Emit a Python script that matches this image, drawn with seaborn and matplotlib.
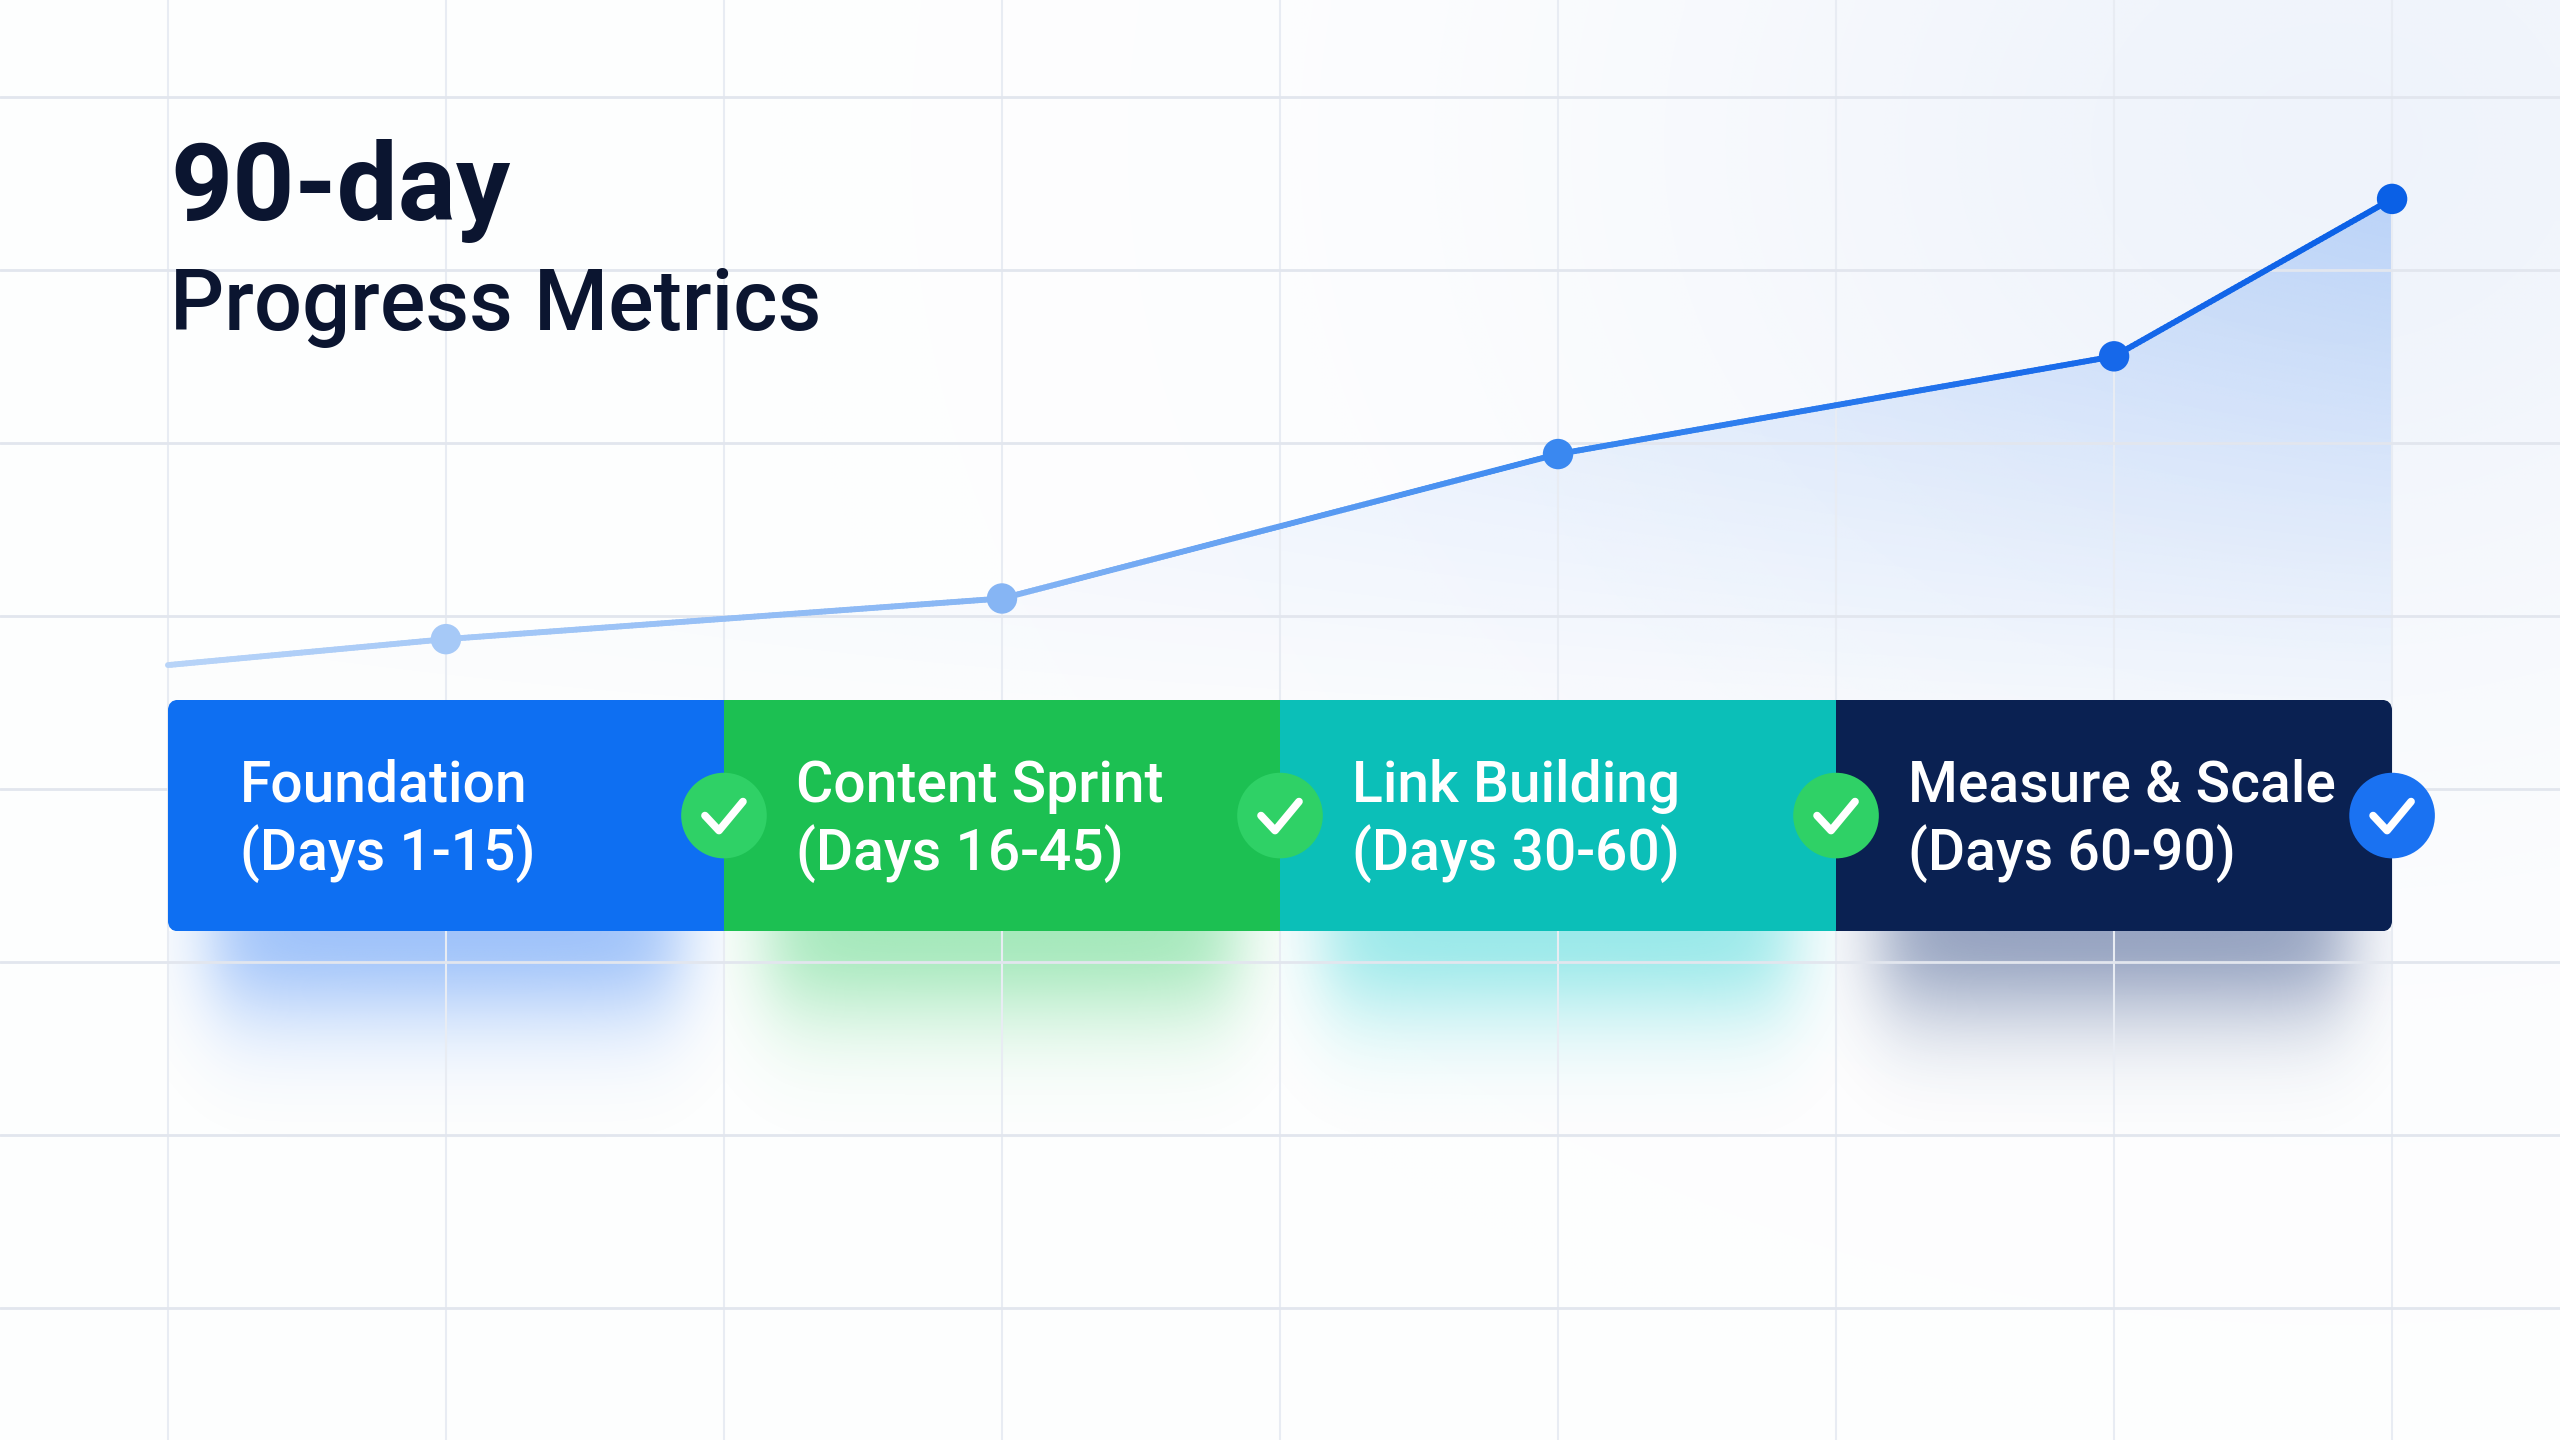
import numpy as np
import pandas as pd
import matplotlib
matplotlib.use("Agg")
import matplotlib.pyplot as plt
import seaborn as sns
from matplotlib.collections import LineCollection
from matplotlib.colors import LinearSegmentedColormap, to_rgb
from matplotlib.patches import FancyBboxPatch

# ---------------- data ----------------
title_line1 = "90-day"
title_line2 = "Progress Metrics"

progress_x = [0, 1, 3, 5, 7, 8]                      # grid columns (90 days in 8 steps)
progress_y = [14.3, 17.3, 22.0, 38.7, 50.0, 68.2]   # progress score
marker_x = [1, 3, 5, 7, 8]
marker_y = [17.3, 22.0, 38.7, 50.0, 68.2]

phase_names = ["Foundation", "Content Sprint", "Link Building", "Measure & Scale"]
phase_days = ["(Days 1-15)", "(Days 16-45)", "(Days 30-60)", "(Days 60-90)"]
phase_start = [0, 2, 4, 6]
phase_len = [2, 2, 2, 2]
phase_colors = ["#0e6ff2", "#1cc052", "#0bbfb8", "#0a2152"]
shadow_colors = ["#2f7cf5", "#3ccf6c", "#25d2d2", "#1e3a78"]

check_x = [2, 4, 6, 8]
check_state = ["done", "done", "done", "final"]
check_palette = {"done": "#2fd166", "final": "#1a72f2"}

# ---------------- figure ----------------
sns.set_theme(style="whitegrid")
plt.rcParams["font.family"] = ["Roboto", "DejaVu Sans"]

W, H = 2560, 1440
fig = plt.figure(figsize=(W / 100, H / 100), dpi=100)
ax = fig.add_axes([0, 0, 1, 1])
XMIN, XMAX = -0.604, 8.604
YMIN, YMAX = -75.3, 91.2
ax.set_xlim(XMIN, XMAX)
ax.set_ylim(YMIN, YMAX)
PX_X = W / (XMAX - XMIN)
PX_Y = H / (YMAX - YMIN)

# grid
ax.set_xticks(np.arange(0, 9, 1))
ax.set_yticks(np.arange(-60, 81, 20))
ax.tick_params(length=0, labelbottom=False, labelleft=False)
for s in ax.spines.values():
    s.set_visible(False)
ax.set_axisbelow("line")
ax.xaxis.grid(True, color="#e8ecf3", lw=1.5)
ax.yaxis.grid(True, color="#e2e6ee", lw=2.0)
ax.set_facecolor("white")

# background soft glow
gx = np.linspace(XMIN, XMAX, 256)
gy = np.linspace(YMIN, YMAX, 144)
GX, GY = np.meshgrid(gx, gy)
dx = (GX - 7.8) * PX_X
dy = (GY - 75) * PX_Y
r = np.sqrt(dx ** 2 + (dy * 1.2) ** 2)
glow = 0.45 * np.exp(-(r / 700) ** 2)
bg = np.zeros((144, 256, 4))
bg[..., :3] = to_rgb("#dfe8f8")
bg[..., 3] = np.clip(glow + 0.04, 0, 1)
ax.imshow(bg, extent=[XMIN, XMAX, YMIN, YMAX], origin="lower", aspect="auto",
          zorder=0, interpolation="bilinear")

# area under line with gradient
fill = ax.fill_between(progress_x, progress_y, -3, facecolor="none", edgecolor="none", zorder=1)
fx = np.linspace(0, 8, 200)
fy = np.linspace(-3, 70, 200)
FX, FY = np.meshgrid(fx, fy)
a = 0.27 * (0.15 + 0.85 * (FX / 8) ** 1.3) * np.clip((FY - 2) / 66, 0, 1) ** 1.1
fimg = np.zeros((200, 200, 4))
fimg[..., :3] = to_rgb("#2f7cf0")
fimg[..., 3] = a
im = ax.imshow(fimg, extent=[0, 8, -3, 70], origin="lower", aspect="auto",
               zorder=1, interpolation="bilinear")
im.set_clip_path(fill.get_paths()[0], ax.transData)

# shadows below the phase bars
bar_top, bar_bot = 10.3, -16.5
bar_center = (bar_top + bar_bot) / 2
bar_h = bar_top - bar_bot
for x0, ln, col in zip(phase_start, phase_len, shadow_colors):
    x1 = x0 + ln
    sx = np.linspace(x0, x1, 200)
    sy = np.linspace(bar_bot - 35, bar_bot, 200)
    SX, SY = np.meshgrid(sx, sy)
    ax_x = 0.5 * (np.tanh((SX - (x0 + 0.16)) / 0.15) - np.tanh((SX - (x1 - 0.16)) / 0.15))
    ax_y = np.exp(-((bar_bot - SY).clip(0) / 11.0) ** 2)
    simg = np.zeros((200, 200, 4))
    simg[..., :3] = to_rgb(col)
    simg[..., 3] = 0.45 * ax_x * ax_y
    ax.imshow(simg, extent=[x0, x1, bar_bot - 35, bar_bot], origin="lower",
              aspect="auto", zorder=1.2, interpolation="bilinear")

# gradient progress line
cmap = LinearSegmentedColormap.from_list(
    "prog", [(0, "#b8d4f8"), (1 / 8, "#a6c9f7"), (3 / 8, "#86b5f4"),
             (5 / 8, "#3a88f0"), (7 / 8, "#1668ea"), (1, "#0a60e6")])
dxs = np.linspace(0, 8, 600)
dys = np.interp(dxs, progress_x, progress_y)
pts = np.column_stack([dxs, dys]).reshape(-1, 1, 2)
segs = np.concatenate([pts[:-1], pts[1:]], axis=1)
lc = LineCollection(segs, colors=cmap(dxs[:-1] / 8), linewidths=4.2, capstyle="round", zorder=2)
ax.add_collection(lc)

mdf = pd.DataFrame({"x": marker_x, "y": marker_y, "k": [str(v) for v in marker_x]})
sns.scatterplot(data=mdf, x="x", y="y", hue="k",
                palette={str(v): cmap(v / 8) for v in marker_x},
                s=480, edgecolor="none", legend=False, zorder=2.5, ax=ax)

# phase bars
band = FancyBboxPatch((phase_start[0], bar_bot), sum(phase_len), bar_h,
                      boxstyle="round,pad=0,rounding_size=0.04",
                      mutation_aspect=PX_X / PX_Y, facecolor="none", edgecolor="none",
                      transform=ax.transData)
ax.add_patch(band)
bars = ax.barh([bar_center] * 4, phase_len, left=phase_start, height=bar_h,
               color=phase_colors, edgecolor="none", zorder=3)
for b in bars:
    b.set_clip_path(band)

for x0, nm, dd in zip(phase_start, phase_names, phase_days):
    ax.text(x0 + 0.26, -1.5, nm, color="white", fontsize=41, fontweight="medium",
            va="baseline", ha="left", zorder=4)
    ax.text(x0 + 0.26, -9.4, dd, color="white", fontsize=41, fontweight="medium",
            va="baseline", ha="left", zorder=4)

# check circles
cdf = pd.DataFrame({"x": check_x, "y": [bar_center] * 4, "state": check_state})
sns.scatterplot(data=cdf, x="x", y="y", hue="state", palette=check_palette,
                s=3800, edgecolor="none", legend=False, zorder=5, ax=ax)
ck_px = np.array([[-19, 0], [-5, -15], [19, 14]])
for cx in check_x:
    ax.plot(cx + ck_px[:, 0] / PX_X, bar_center + ck_px[:, 1] / PX_Y, color="white",
            lw=5.5, solid_capstyle="round", solid_joinstyle="round", zorder=6)

ax.set_xlabel("")
ax.set_ylabel("")

# title
fig.text(170 / W, 1 - 220 / H, title_line1, fontsize=78, fontweight="semibold",
         color="#0b1530", va="baseline", ha="left")
fig.text(170 / W, 1 - 330 / H, title_line2, fontsize=61, fontweight="medium",
         color="#0b1530", va="baseline", ha="left")

fig.savefig("out.png", dpi=100)
